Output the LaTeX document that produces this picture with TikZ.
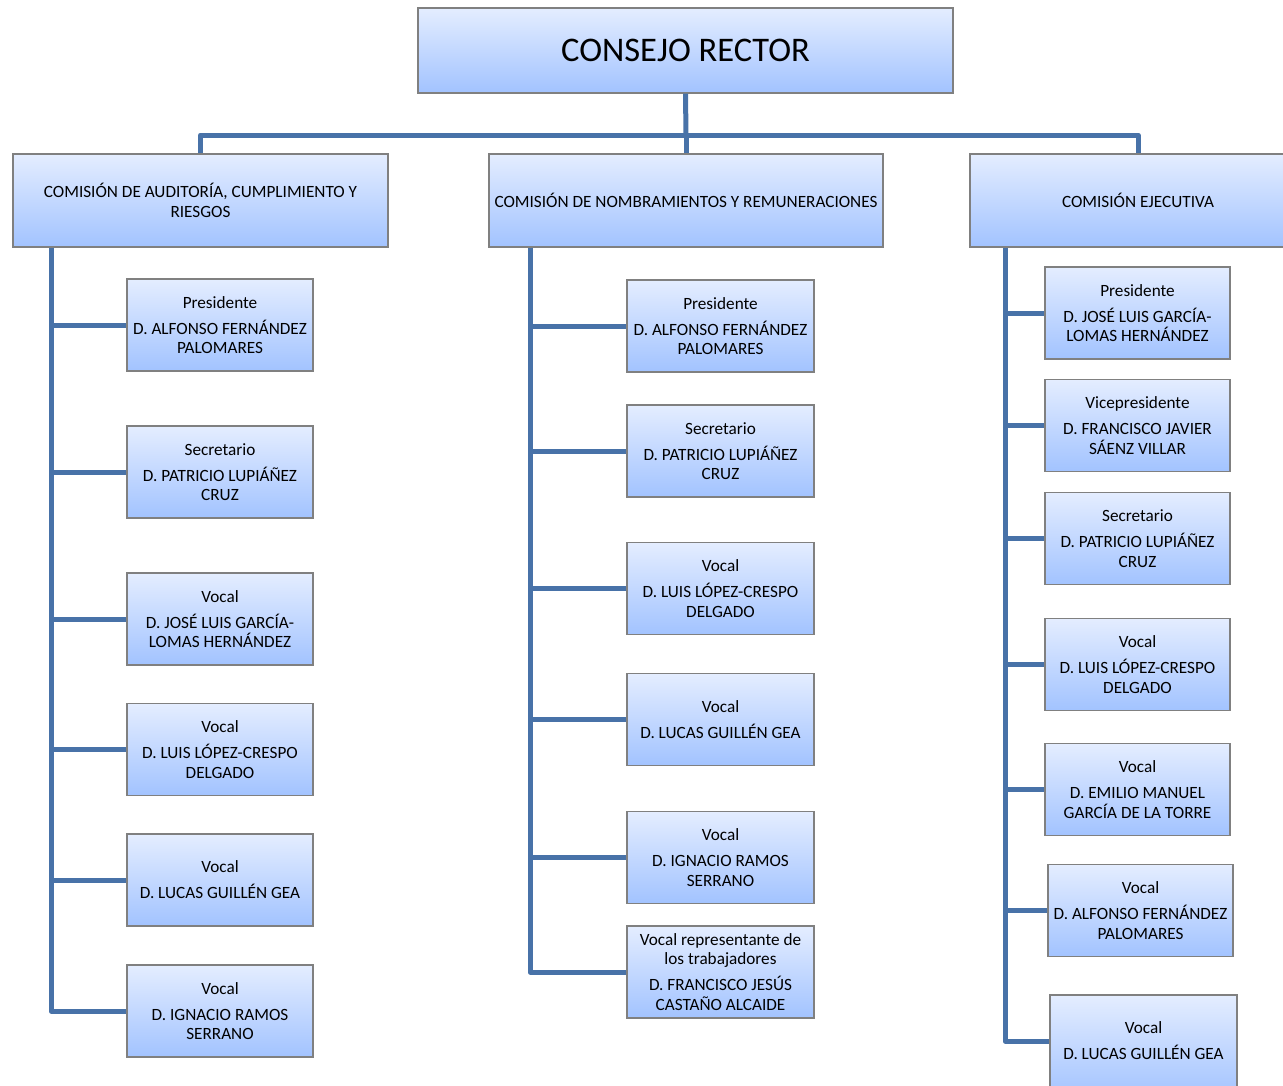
\documentclass[tikz,border=0pt]{standalone}
\usepackage{fontspec}
\setmainfont{Carlito}
\definecolor{boxtop}{RGB}{228,237,255}
\definecolor{boxbot}{RGB}{162,195,255}
\definecolor{conncol}{RGB}{72,114,168}
\definecolor{edgecol}{RGB}{128,128,128}
\begin{document}
\begin{tikzpicture}[x=1pt,y=-1pt,
  box/.style={draw=edgecol,line width=1.2pt,top color=boxtop,bottom color=boxbot,inner sep=0pt,align=center,font=\fontsize{17.2}{19.5}\selectfont},
  mbox/.style={box,minimum width=186pt,minimum height=92pt},
  hbox/.style={box,minimum height=93pt,font=\fontsize{17.2}{19.5}\selectfont},
  conn/.style={draw=conncol,line width=5pt,line join=round}]
\useasboundingbox (0,0) rectangle (1283,1085);

% top
\node[box,minimum width=535pt,minimum height=85pt,font=\fontsize{34.5}{38}\selectfont] (cr) at (685.5,50.5) {CONSEJO RECTOR};
\node[hbox,minimum width=375pt] (ca) at (200.5,200.5) {COMISIÓN DE AUDITORÍA, CUMPLIMIENTO Y\\RIESGOS};
\node[hbox,minimum width=394pt] (cn) at (686,200.5) {COMISIÓN DE NOMBRAMIENTOS Y REMUNERACIONES};
\node[hbox,minimum width=336pt] (ce) at (1138,200.5) {COMISIÓN EJECUTIVA};

\coordinate (bus) at (686,135);
\draw[conn] (cr.south) -- (bus);
\draw[conn] (ca.north) |- (bus) -| (ce.north);
\draw[conn] (bus) -- (cn.north);

% column 1
\coordinate (s1) at (51,0);
\node[mbox] (a1) at (220,325) {Presidente\\[6.5pt]D. ALFONSO FERNÁNDEZ\\PALOMARES};
\node[mbox] (a2) at (220,472) {Secretario\\[6.5pt]D. PATRICIO LUPIÁÑEZ\\CRUZ};
\node[mbox] (a3) at (220,619) {Vocal\\[6.5pt]D. JOSÉ LUIS GARCÍA-\\LOMAS HERNÁNDEZ};
\node[mbox] (a4) at (220,749.5) {Vocal\\[6.5pt]D. LUIS LÓPEZ-CRESPO\\DELGADO};
\node[mbox] (a5) at (220,880) {Vocal\\[6.5pt]D. LUCAS GUILLÉN GEA};
\node[mbox] (a6) at (220,1011) {Vocal\\[6.5pt]D. IGNACIO RAMOS\\SERRANO};
\draw[conn] (ca.south -| s1) |- (a6.west);
\foreach \n in {a1,a2,a3,a4,a5} \draw[conn] (s1 |- \n.west) -- (\n.west);

% column 2
\coordinate (s2) at (530,0);
\node[mbox,minimum width=187pt] (b1) at (720.5,326) {Presidente\\[6.5pt]D. ALFONSO FERNÁNDEZ\\PALOMARES};
\node[mbox,minimum width=187pt] (b2) at (720.5,451) {Secretario\\[6.5pt]D. PATRICIO LUPIÁÑEZ\\CRUZ};
\node[mbox,minimum width=187pt] (b3) at (720.5,588.5) {Vocal\\[6.5pt]D. LUIS LÓPEZ-CRESPO\\DELGADO};
\node[mbox,minimum width=187pt] (b4) at (720.5,719.5) {Vocal\\[6.5pt]D. LUCAS GUILLÉN GEA};
\node[mbox,minimum width=187pt] (b5) at (720.5,857.5) {Vocal\\[6.5pt]D. IGNACIO RAMOS\\SERRANO};
\node[mbox,minimum width=187pt] (b6) at (720.5,972) {Vocal representante de\\los trabajadores\\[6.5pt]D. FRANCISCO JESÚS\\CASTAÑO ALCAIDE};
\draw[conn] (cn.south -| s2) |- (b6.west);
\foreach \n in {b1,b2,b3,b4,b5} \draw[conn] (s2 |- \n.west) -- (\n.west);

% column 3
\coordinate (s3) at (1005,0);
\node[mbox,minimum width=185pt] (e1) at (1137.5,313) {Presidente\\[6.5pt]D. JOSÉ LUIS GARCÍA-\\LOMAS HERNÁNDEZ};
\node[mbox,minimum width=185pt] (e2) at (1137.5,425.5) {Vicepresidente\\[6.5pt]D. FRANCISCO JAVIER\\SÁENZ VILLAR};
\node[mbox,minimum width=185pt] (e3) at (1137.5,538.5) {Secretario\\[6.5pt]D. PATRICIO LUPIÁÑEZ\\CRUZ};
\node[mbox,minimum width=185pt] (e4) at (1137.5,664.5) {Vocal\\[6.5pt]D. LUIS LÓPEZ-CRESPO\\DELGADO};
\node[mbox,minimum width=185pt] (e5) at (1137.5,789.5) {Vocal\\[6.5pt]D. EMILIO MANUEL\\GARCÍA DE LA TORRE};
\node[mbox,minimum width=185pt] (e6) at (1140.5,910.5) {Vocal\\[6.5pt]D. ALFONSO FERNÁNDEZ\\PALOMARES};
\node[mbox,minimum width=187pt,minimum height=104pt,text depth=12pt] (e7) at (1143.5,1047) {Vocal\\[6.5pt]D. LUCAS GUILLÉN GEA};
\draw[conn] (ce.south -| s3) |- ([yshift=6pt]e7.west);
\foreach \n in {e1,e2,e3,e4,e5,e6} \draw[conn] (s3 |- \n.west) -- (\n.west);
\end{tikzpicture}
\end{document}
